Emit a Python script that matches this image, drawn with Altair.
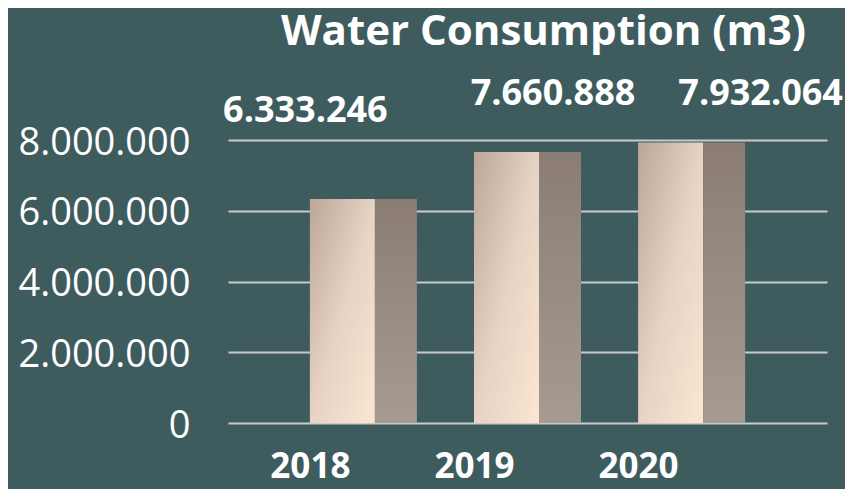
import altair as alt
import pandas as pd

years = ["2018", "2019", "2020"]
consumption = [6333246, 7660888, 7932064]
y_ticks = [0, 2000000, 4000000, 6000000, 8000000]

df = pd.DataFrame({"year": years, "value": consumption})
df["label"] = [f"{v:,}".replace(",", ".") for v in consumption]

BG = "#3e5c5e"
FONT = "Open Sans"

x = alt.X(
    "year:N",
    scale=alt.Scale(paddingInner=0.35, paddingOuter=0.5),
    axis=alt.Axis(
        title=None, labelAngle=0, labelFont=FONT, labelFontWeight="bold",
        labelFontSize=35, labelColor="white", labelOffset=-53, labelPadding=26,
        ticks=False, domain=False, grid=False,
    ),
)
y = alt.Y(
    "value:Q",
    scale=alt.Scale(domain=[0, 8000000], nice=False),
    axis=alt.Axis(
        title=None, values=y_ticks,
        labelExpr="replace(format(datum.value, ',d'), regexp(',', 'g'), '.')",
        labelFont=FONT, labelFontSize=38, labelColor="white", labelPadding=38,
        labelOffset=3,
        ticks=False, domain=False, grid=True, gridColor="#c8cacb", gridWidth=2,
    ),
)

left_grad = alt.LinearGradient(
    gradient="linear",
    stops=[alt.GradientStop(color="#bba698", offset=0),
           alt.GradientStop(color="#e6d3c4", offset=0.5),
           alt.GradientStop(color="#fce6d1", offset=1)],
    x1=0, y1=0, x2=1, y2=1,
)
right_grad = alt.LinearGradient(
    gradient="linear",
    stops=[alt.GradientStop(color="#8b7d74", offset=0),
           alt.GradientStop(color="#a69b91", offset=1)],
    x1=0, y1=0, x2=0, y2=1,
)

base = alt.Chart(df)
left_face = base.mark_bar(width=65, xOffset=-21, color=left_grad).encode(x=x, y=y)
right_face = base.mark_bar(width=42, xOffset=32.5, color=right_grad).encode(x=x, y=y)

label_offsets = [("2018", -58, -77), ("2019", 25.5, -47), ("2020", 69, -37)]
labels = []
for yr, ddx, ddy in label_offsets:
    labels.append(
        base.transform_filter(alt.datum.year == yr)
        .mark_text(font=FONT, fontSize=36, fontWeight="bold", color="white",
                   align="center", baseline="alphabetic", dx=ddx, dy=ddy)
        .encode(x=x, y=y, text="label:N")
    )

chart = alt.layer(left_face, right_face, *labels).properties(
    width=599,
    height=283,
    autosize=alt.AutoSizeParams(type="none"),
    padding={"left": 220, "top": 132, "right": 18, "bottom": 66},
    background=BG,
    title=alt.TitleParams(
        "Water Consumption (m3)", font=FONT, fontSize=42, fontWeight="bold",
        color="white", anchor="middle", dx=16, offset=22,
    ),
).configure_view(stroke=None)

chart.save("out.html", embed_options={"renderer": "svg", "actions": False})
